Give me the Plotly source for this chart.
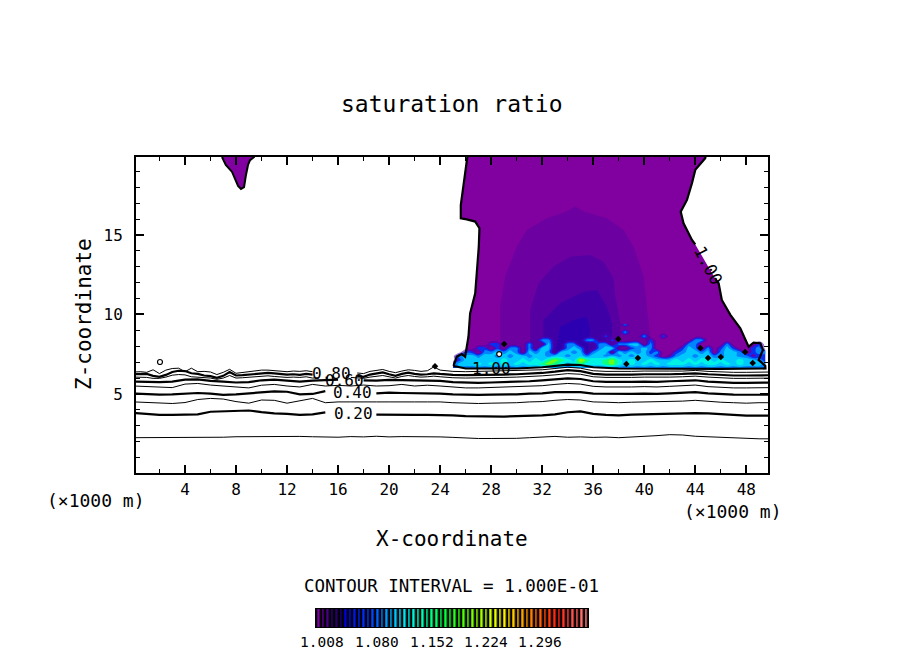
import plotly.graph_objects as go

FONT = "DejaVu Sans Mono"

# Contour lines (x in km, z in km), None = gap for a line label
X_LINE = [0, 1, 2, 3, 4, 5, 6, 7, 8, 9, 10, 11, 12, 13, 14, 15, 16, 17, 18, 19, 20, 21, 22, 23, 24,
          25, 26, 27, 28, 29, 30, 31, 32, 33, 34, 35, 36, 37, 38, 39, 40, 41, 42, 43, 44, 45, 46, 47, 48, 49, 50]
Z_010 = [2.25, 2.25, 2.26, 2.28, 2.26, 2.27, 2.26, 2.28, 2.31, 2.32,
         2.31, 2.32, 2.33, 2.33, 2.31, 2.30, 2.28, 2.32, 2.30, 2.34,
         2.30, 2.32, 2.32, 2.31, 2.30, 2.27, 2.22, 2.20, 2.20, 2.20,
         2.21, 2.25, 2.28, 2.33, 2.28, 2.30, 2.27, 2.29, 2.25, 2.28,
         2.32, 2.38, 2.44, 2.42, 2.34, 2.30, 2.26, 2.22, 2.20, 2.18, 2.18]
Z_020 = [3.80, 3.72, 3.68, 3.68, 3.68, 3.72, 3.88, 3.92, 3.96, 3.96,
         3.86, 3.78, 3.75, 3.68, 3.72, 3.84, None, None, None, 3.70,
         3.68, 3.68, 3.68, 3.68, 3.68, 3.65, 3.60, 3.58, 3.58, 3.58,
         3.60, 3.62, 3.65, 3.72, 3.85, 3.90, 3.75, 3.68, 3.65, 3.70,
         3.72, 3.75, 3.80, 3.82, 3.80, 3.78, 3.72, 3.68, 3.64, 3.64, 3.64]
Z_030 = [4.50, 4.46, 4.42, 4.40, 4.46, 4.65, 4.72, 4.68, 4.52, 4.42,
         4.62, 4.60, 4.42, 4.55, 4.72, 4.45, 4.50, 4.50, 4.52, 4.50,
         4.50, 4.48, 4.50, 4.50, 4.50, 4.45, 4.42, 4.40, 4.42, 4.42,
         4.45, 4.50, 4.52, 4.60, 4.65, 4.62, 4.50, 4.48, 4.45, 4.48,
         4.50, 4.48, 4.50, 4.55, 4.60, 4.52, 4.48, 4.45, 4.42, 4.45, 4.45]
Z_040 = [5.02, 4.98, 4.96, 4.98, 5.00, 5.06, 5.02, 4.94, 4.98, 5.04,
         5.12, 5.16, 5.14, 4.98, 5.00, 5.18, None, None, None, 5.04,
         5.08, 5.06, 5.06, 5.04, 5.02, 4.98, 4.95, 4.94, 4.96, 4.96,
         4.98, 5.02, 5.04, 5.12, 5.14, 5.12, 5.02, 5.00, 4.98, 5.00,
         5.02, 5.00, 5.04, 5.06, 5.12, 5.04, 4.98, 4.96, 4.95, 4.95, 4.95]
Z_050 = [5.50, 5.48, 5.44, 5.40, 5.62, 5.66, 5.56, 5.50, 5.44, 5.38,
         5.55, 5.60, 5.50, 5.44, 5.60, 5.50, 5.54, 5.50, 5.56, 5.50,
         5.52, 5.60, 5.50, 5.55, 5.50, 5.42, 5.38, 5.38, 5.40, 5.42,
         5.45, 5.48, 5.52, 5.60, 5.66, 5.62, 5.48, 5.44, 5.42, 5.44,
         5.46, 5.44, 5.48, 5.50, 5.56, 5.46, 5.40, 5.38, 5.38, 5.40, 5.40]
Z_060 = [5.78, 5.76, 5.74, 5.78, 5.90, 5.92, 5.82, 5.78, 5.72, 5.74,
         5.86, 5.90, 5.86, 5.78, 5.84, 5.88, 5.90, None, 5.86, 5.84,
         5.88, 5.86, 5.86, 5.84, 5.82, 5.74, 5.70, 5.70, 5.72, 5.74,
         5.76, 5.80, 5.86, 5.92, 5.98, 5.94, 5.80, 5.76, 5.74, 5.76,
         5.78, 5.76, 5.80, 5.82, 5.86, 5.78, 5.72, 5.70, 5.70, 5.72, 5.72]

# the upper lines wiggle more, so the left half is read every 500 m
X_UPPER = [0, 0.5, 1, 1.5, 2, 2.5, 3, 3.5, 4, 4.5, 5, 5.5, 6, 6.5, 7, 7.5, 8, 8.5, 9, 9.5,
           10, 10.5, 11, 11.5, 12, 12.5, 13, 13.5, 14, 14.5, 15, 15.5, 16, 16.5, 17, 17.5, 18, 18.5, 19, 19.5,
           20, 20.5, 21, 21.5, 22, 22.5, 23, 23.5, 24, 24.5, 25,
           26, 27, 28, 29, 30, 31, 32, 33, 34, 35, 36, 37, 38, 39, 40, 41, 42, 43, 44, 45, 46, 47, 48, 49, 50]
Z_070 = [6.06, 6.06, 6.04, 5.98, 5.98, 6.06, 6.18, 6.22, 6.20, 6.08, 6.06, 6.02, 6.00, 5.92, 6.00, 6.16, 6.00, 6.02, 6.06, 6.10,
         6.12, 6.14, 6.10, 6.06, 6.04, 6.06, 6.04, 6.08, 6.00, 6.02, None, None, None, None, 6.04, 6.00, 5.98, 6.06, 6.12, 6.16,
         6.08, 6.00, 6.10, 6.16, 6.10, 6.06, 6.08, 6.12, 6.08, 6.04, 6.02,
         6.00, 6.00, 6.02, 6.04, 6.06, 6.08, 6.14, 6.20, 6.28, 6.24, 6.08, 6.04, 6.02, 6.04, 6.06, 6.04, 6.06, 6.08, 6.12, 6.06, 6.00, 5.98, 5.98, 6.00, 6.00]
Z_080 = [6.24, 6.24, 6.26, 6.14, 6.08, 6.20, 6.38, 6.46, 6.44, 6.30, 6.26, 6.16, 6.12, 6.02, 6.14, 6.38, 6.16, 6.18, 6.22, 6.28,
         6.30, 6.32, 6.30, 6.26, 6.22, 6.24, 6.20, 6.26, 6.22, None, None, None, None, None, None, 6.14, 6.08, 6.22, 6.30, 6.36,
         6.24, 6.14, 6.26, 6.34, 6.26, 6.22, 6.24, 6.30, 6.26, 6.22, 6.20,
         6.18, 6.18, 6.20, 6.22, 6.24, 6.26, 6.32, 6.40, 6.50, 6.44, 6.26, 6.22, 6.20, 6.22, 6.24, 6.22, 6.24, 6.26, 6.30, 6.24, 6.18, 6.16, 6.16, 6.18, 6.18]
Z_090 = [6.38, 6.40, 6.36, 6.52, 6.28, 6.50, 6.60, 6.62, 6.40, 6.62, 6.40, 6.42, 6.38, 6.22, 6.36, 6.55, 6.30, 6.35, 6.42, 6.44,
         6.50, 6.50, 6.46, 6.42, 6.40, 6.44, 6.42, 6.46, 6.40, None, None, None, None, None, None, 6.32, 6.28, 6.42, 6.50, 6.54,
         6.42, 6.34, 6.44, 6.52, 6.48, 6.42, 6.46, 6.70, 6.50, 6.44, 6.42,
         6.40, 6.42, 6.42, 6.44, 6.46, 6.48, 6.52, 6.60, 6.68, 6.62, 6.46, 6.42, 6.40, 6.42, 6.44, 6.42, 6.44, 6.44, 6.48, 6.42, 6.38, 6.36, 6.36, 6.38, 6.38]

# Cloud outline (the 1.00 contour), None = gap for the rotated label
CLOUD_X = [25.05, 25.18, 25.30, 25.70, 25.96, 26.22, 26.35, 26.75, 26.93, 27.03, 27.08, 26.75, 26.09, 25.62, 25.62,
           25.83, 25.96, 26.09, 26.2, 44.9, 44.78, 44.00, 43.74, 43.35, 42.86, 43.08, 43.74, 44.00, None,
           45.60, 45.83, 46.08, 46.75, 47.53, 48.18, 48.57, 49.10, 49.30, 48.97, 49.49,
           49.5, 46, 42, 38, 36, 35, 34, 32, 30, 28, 26, 25.05]
CLOUD_Z = [6.76, 7.03, 7.34, 7.51, 7.34, 8.60, 10.07, 11.33, 13.00, 14.26, 15.42, 15.84, 15.98, 16.05, 16.88,
           18.25, 19.09, 19.82, 20.3, 20.3, 19.82, 19.09, 18.25, 17.20, 16.46, 15.73, 14.68, 14.40, None,
           12.20, 11.96, 10.91, 9.97, 9.13, 7.97, 8.22, 8.19, 7.77, 7.14, 6.76,
           6.60, 6.58, 6.60, 6.60, 6.68, 6.82, 6.84, 6.68, 6.60, 6.58, 6.60, 6.76]
TOP_BLOB_X = [6.90, 7.20, 7.69, 8.16, 8.39, 8.63, 8.78, 8.94, 9.10, 9.41, 9.41, 6.90, 6.90]
TOP_BLOB_Z = [19.90, 19.40, 18.96, 18.08, 17.89, 18.00, 18.77, 19.40, 19.70, 19.90, 20.30, 20.30, 19.90]

# Nested shades of the dome inside the cloud
DOME2_X = [28.71, 28.71, 29.10, 30.01, 30.80, 32.37, 33.93, 34.59, 35.24, 37.07, 38.38, 39.16, 39.95, 40.20, 40.47, 40.47]
DOME2_Z = [7.00, 10.49, 12.38, 14.26, 15.31, 16.05, 16.47, 16.78, 16.47, 16.05, 15.31, 14.26, 12.38, 10.49, 8.60, 7.00]
DOME3_X = [31.06, 31.06, 31.71, 32.89, 34.20, 35.76, 36.81, 37.59, 37.73, 38.12, 38.12]
DOME3_Z = [7.00, 10.28, 11.96, 13.01, 13.63, 13.74, 13.32, 12.27, 11.12, 9.44, 7.00]
DOME4_X = [32.10, 32.10, 33.41, 35.24, 36.29, 37.07, 37.47, 37.47]
DOME4_Z = [7.00, 9.65, 10.70, 11.43, 11.54, 10.49, 9.44, 7.00]
DOME5_X = [32.89, 33.41, 34.46, 35.50, 35.76, 35.63, 35.63]
DOME5_Z = [7.00, 9.23, 9.65, 9.86, 9.02, 8.39, 7.00]
DOME_COLORS = ["#6c00a0", "#5600a4", "#4000a8", "#2c00b0"]

# Noisy low cloud layer: one class digit per 500 m column, rows top to bottom
BAND_X = [25, 25.5, 26, 26.5, 27, 27.5, 28, 28.5, 29, 29.5, 30, 30.5, 31, 31.5, 32, 32.5, 33, 33.5, 34, 34.5,
          35, 35.5, 36, 36.5, 37, 37.5, 38, 38.5, 39, 39.5, 40, 40.5, 41, 41.5, 42, 42.5, 43, 43.5, 44, 44.5,
          45, 45.5, 46, 46.5, 47, 47.5, 48, 48.5, 49, 49.5]
BAND_Z = [9.38, 9.13, 8.88, 8.63, 8.38, 8.13, 7.88, 7.63, 7.38, 7.13, 6.88, 6.63]
BAND_ROWS = [
    "0000000000 0000000000 0000000300 0000000000 0000000000",
    "0000000000 0000000000 0000000000 0000000000 0000000000",
    "0000000000 0000000000 0000000300 0000000000 0000000000",
    "0000000000 0000000000 0000200000 3002000000 0000000000",
    "0000000000 0000330000 0330020000 0200000033 0000000000",
    "0000002200 0030040033 0003303344 0300000330 0003000020",
    "0000220203 3030440034 3003440023 4300002430 3024200230",
    "0022033434 3043430443 4034404343 4230023443 4034430233",
    "0344344343 4434434434 4344343434 4320134434 4334433122",
    "0244444454 4545467654 8655675454 4544454545 5454454432",
    "2444545454 5455676545 6555675454 5454555454 5545454443",
    "2333333333 3333333333 3333333333 3333333333 3333333332",
]
BAND_COLORS = ["rgba(128,0,160,0)", "#2400c8", "#0040ff", "#0090ff", "#00c8ff",
               "#00f0f0", "#00ffa0", "#30ff30", "#b0ff00"]

# Small closed 1.00 contours
ISLAND_X = [29.02, 37.96, 38.60, 39.50, 44.40, 45.00, 46.00, 47.90, 48.50, 23.60]
ISLAND_Z = [8.14, 8.46, 6.89, 7.26, 7.89, 7.26, 7.33, 7.64, 6.95, 6.74]
HOLE_X = [28.63, 2.04]
HOLE_Z = [7.51, 7.01]

# Colour bar levels and colours
CBAR_LEVELS = [1.008, 1.014, 1.020, 1.026, 1.032, 1.038, 1.044, 1.050, 1.056, 1.062, 1.068, 1.074,
               1.080, 1.086, 1.092, 1.098, 1.104, 1.110, 1.116, 1.122, 1.128, 1.134, 1.140, 1.146,
               1.152, 1.158, 1.164, 1.170, 1.176, 1.182, 1.188, 1.194, 1.200, 1.206, 1.212, 1.218,
               1.224, 1.230, 1.236, 1.242, 1.248, 1.254, 1.260, 1.266, 1.272, 1.278, 1.284, 1.290,
               1.296, 1.302, 1.308, 1.314, 1.320, 1.326, 1.332, 1.338, 1.344, 1.350, 1.356, 1.362]
CBAR_COLORSCALE = [[0, "#7a00a0"], [0.02, "#5a0090"], [0.05, "#300070"], [0.08, "#200060"], [0.10, "#0000e0"],
                   [0.20, "#0040ff"], [0.25, "#0090ff"], [0.31, "#00e0ff"], [0.38, "#00ffc0"], [0.47, "#00ff40"],
                   [0.52, "#30ff10"], [0.58, "#80ff00"], [0.68, "#ffff00"], [0.78, "#ff9000"], [0.89, "#ff2010"],
                   [1.0, "#ff8080"]]
CBAR_TICKS = ["1.008", "1.080", "1.152", "1.224", "1.296"]
CBAR_TICK_PX = [322, 377, 432, 486, 540]


def paper_x(px):
    return (px - 136) / 632


def paper_y(py):
    return (627 - py) / 470


def add_text(fig, text, px, py, size, angle=0):
    fig.add_annotation(text=text, x=paper_x(px), y=paper_y(py), xref="paper", yref="paper",
                       showarrow=False, textangle=angle, xanchor="center", yanchor="middle",
                       font=dict(family=FONT, size=size, color="black"))


fig = go.Figure()

# cloud fill and dome go on the main axes; contour traces paint under scatter on the
# same axes, so the noisy layer and all the lines live on an overlay pair (x3, y3)
fig.add_trace(go.Scatter(x=[v for v in CLOUD_X if v is not None], y=[v for v in CLOUD_Z if v is not None],
                         mode="none", fill="toself", fillcolor="#8000a0", hoverinfo="skip"))
fig.add_trace(go.Scatter(x=TOP_BLOB_X, y=TOP_BLOB_Z, mode="lines", fill="toself", fillcolor="#8000a0",
                         line=dict(color="black", width=2), hoverinfo="skip"))
domes = [(DOME2_X, DOME2_Z), (DOME3_X, DOME3_Z), (DOME4_X, DOME4_Z), (DOME5_X, DOME5_Z)]
for (dx, dz), color in zip(domes, DOME_COLORS):
    fig.add_trace(go.Scatter(x=dx, y=dz, mode="none", fill="toself", fillcolor=color, hoverinfo="skip"))

band_grid = [[int(c) for c in row.replace(" ", "")] for row in BAND_ROWS]
band_scale = [[i / 8, c] for i, c in enumerate(BAND_COLORS)]
fig.add_trace(go.Contour(x=BAND_X, y=BAND_Z, z=band_grid, zmin=0, zmax=8, colorscale=band_scale, showscale=False,
                         contours=dict(coloring="fill", start=0.5, end=8.5, size=1, showlines=False),
                         line=dict(width=0), hoverinfo="skip", xaxis="x3", yaxis="y3"))

fig.add_trace(go.Scatter(x=CLOUD_X, y=CLOUD_Z, mode="lines", line=dict(color="black", width=2.2),
                         hoverinfo="skip", xaxis="x3", yaxis="y3"))

lines = [(X_LINE, Z_010, 1), (X_LINE, Z_020, 2.2), (X_LINE, Z_030, 1), (X_LINE, Z_040, 2.2), (X_LINE, Z_050, 1),
         (X_LINE, Z_060, 2.2), (X_UPPER, Z_070, 1), (X_UPPER, Z_080, 2.2), (X_UPPER, Z_090, 1)]
for lx, lz, width in lines:
    fig.add_trace(go.Scatter(x=lx, y=lz, mode="lines", line=dict(color="black", width=width),
                             hoverinfo="skip", xaxis="x3", yaxis="y3"))

fig.add_trace(go.Scatter(x=ISLAND_X, y=ISLAND_Z, mode="markers", hoverinfo="skip", xaxis="x3", yaxis="y3",
                         marker=dict(symbol="diamond", size=5, color="black")))
fig.add_trace(go.Scatter(x=HOLE_X, y=HOLE_Z, mode="markers", hoverinfo="skip", xaxis="x3", yaxis="y3",
                         marker=dict(symbol="circle", size=5, color="white", line=dict(color="black", width=1.2))))

# colour bar on its own small axes
fig.add_trace(go.Heatmap(x=CBAR_LEVELS, y=[0], z=[CBAR_LEVELS], colorscale=CBAR_COLORSCALE, showscale=False,
                         xgap=2.5, xaxis="x2", yaxis="y2", hoverinfo="skip"))

fig.update_layout(
    width=904,
    height=654,
    margin=dict(l=136, r=136, t=157, b=27, pad=0),
    paper_bgcolor="white",
    plot_bgcolor="white",
    showlegend=False,
    font=dict(family=FONT, size=16, color="black"),
    xaxis=dict(range=[0.16, 49.7], tick0=0, dtick=4, ticks="inside", ticklen=8, tickwidth=2, tickcolor="black",
               minor=dict(dtick=2, ticks="inside", ticklen=4, tickcolor="black", tickwidth=1),
               showline=True, linecolor="black", linewidth=2, mirror="ticks", showgrid=False, zeroline=False,
               ticklabelstandoff=1, anchor="y"),
    yaxis=dict(domain=[154 / 470, 1], range=[0.03, 19.9], tickvals=[5, 10, 15], ticks="inside", ticklen=8,
               tickwidth=2, tickcolor="black",
               minor=dict(dtick=1, ticks="inside", ticklen=4, tickcolor="black", tickwidth=1),
               showline=True, linecolor="black", linewidth=2, mirror="ticks", showgrid=False, zeroline=False,
               ticklabelstandoff=8, anchor="x"),
    xaxis2=dict(domain=[paper_x(316), paper_x(588)], range=[1.0047, 1.3643], visible=False, anchor="y2"),
    yaxis2=dict(domain=[0, 18 / 470], range=[-0.5, 0.5], visible=False, anchor="x2"),
    xaxis3=dict(range=[0.16, 49.7], overlaying="x", visible=False, anchor="y3"),
    yaxis3=dict(domain=[154 / 470, 1], range=[0.03, 19.9], overlaying="y", visible=False, anchor="x3"),
    shapes=[dict(type="rect", xref="x2 domain", yref="y2 domain", x0=0, x1=1, y0=0, y1=1, layer="below",
                 fillcolor="black", line=dict(color="black", width=2))],
)

add_text(fig, "saturation ratio", 452, 104, 23)
add_text(fig, "X-coordinate", 452, 539, 21)
add_text(fig, "Z-coordinate", 84, 314, 21, angle=-90)
add_text(fig, "(×1000 m)", 96, 500, 18)
add_text(fig, "(×1000 m)", 733, 511, 18)
add_text(fig, "CONTOUR INTERVAL = 1.000E-01", 451, 586, 17.5)
for label, px in zip(CBAR_TICKS, CBAR_TICK_PX):
    add_text(fig, label, px, 642, 14.5)

# contour labels sit on the lines, in data coordinates
contour_labels = [("0.80", 15.45, 6.3, 0), ("0.60", 16.5, 5.85, 0), ("0.40", 17.1, 5.1, 0), ("0.20", 17.2, 3.75, 0),
                  ("1.00", 28.0, 6.6, 0), ("1.00", 45.0, 13.1, 62)]
for text, lx, lz, angle in contour_labels:
    fig.add_annotation(text=text, x=lx, y=lz, xref="x", yref="y", showarrow=False, textangle=angle,
                       font=dict(family=FONT, size=17 if angle else 16, color="black"))

fig.write_html("out.html", config={"displayModeBar": False}, post_script="document.body.style.margin = '0';")
